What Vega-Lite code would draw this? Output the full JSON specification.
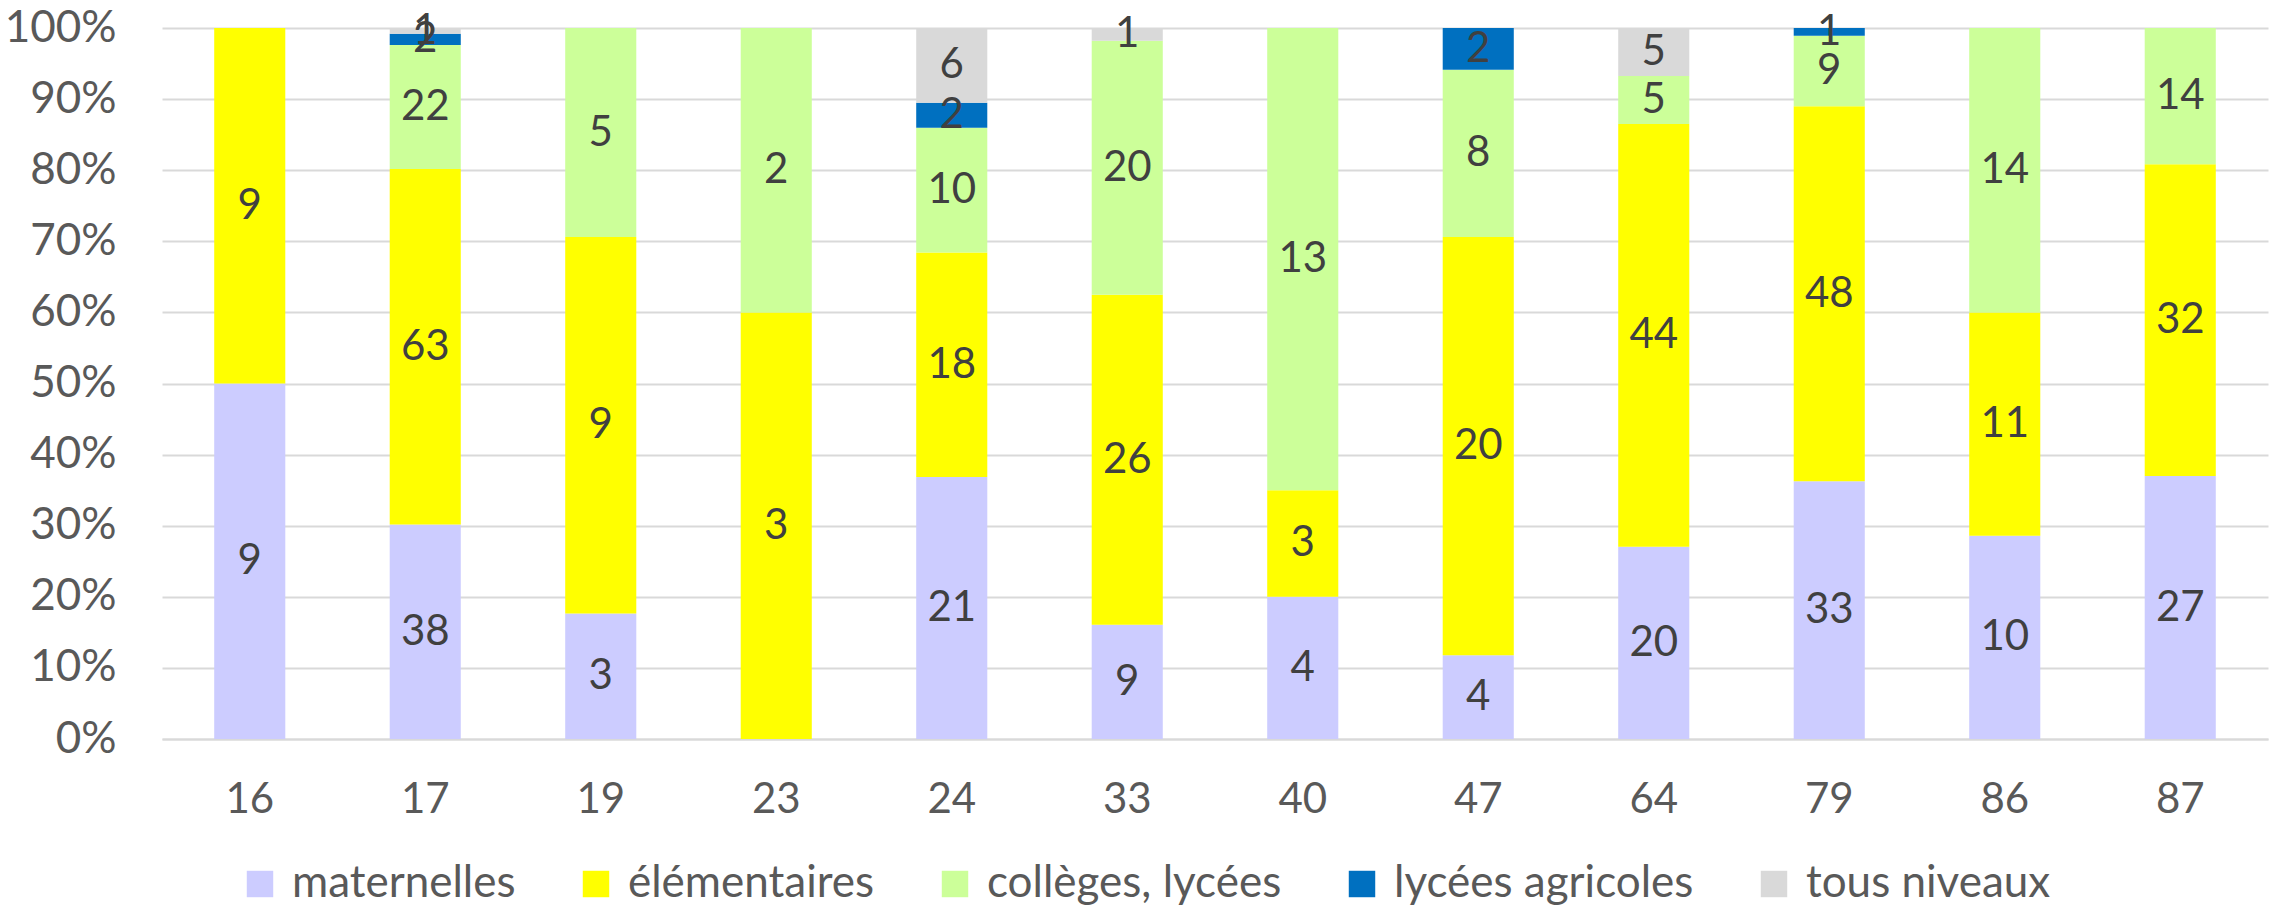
{
  "$schema": "https://vega.github.io/schema/vega-lite/v6.json",
  "width": 2106,
  "height": 711,
  "autosize": {"type": "none"},
  "padding": {"left": 162, "top": 28, "right": 9, "bottom": 170},
  "background": "white",
  "config": {
    "view": {"stroke": null},
    "font": "Lato",
    "axis": {"labelFont": "Lato", "labelColor": "#595959", "labelFontSize": 42},
    "legend": {"labelFont": "Lato"}
  },
  "data": {
    "values": [
      {"dep": "16", "niveau": "maternelles", "n": 9},
      {"dep": "16", "niveau": "élémentaires", "n": 9},
      {"dep": "17", "niveau": "maternelles", "n": 38},
      {"dep": "17", "niveau": "élémentaires", "n": 63},
      {"dep": "17", "niveau": "collèges, lycées", "n": 22},
      {"dep": "17", "niveau": "lycées agricoles", "n": 2},
      {"dep": "17", "niveau": "tous niveaux", "n": 1},
      {"dep": "19", "niveau": "maternelles", "n": 3},
      {"dep": "19", "niveau": "élémentaires", "n": 9},
      {"dep": "19", "niveau": "collèges, lycées", "n": 5},
      {"dep": "23", "niveau": "élémentaires", "n": 3},
      {"dep": "23", "niveau": "collèges, lycées", "n": 2},
      {"dep": "24", "niveau": "maternelles", "n": 21},
      {"dep": "24", "niveau": "élémentaires", "n": 18},
      {"dep": "24", "niveau": "collèges, lycées", "n": 10},
      {"dep": "24", "niveau": "lycées agricoles", "n": 2},
      {"dep": "24", "niveau": "tous niveaux", "n": 6},
      {"dep": "33", "niveau": "maternelles", "n": 9},
      {"dep": "33", "niveau": "élémentaires", "n": 26},
      {"dep": "33", "niveau": "collèges, lycées", "n": 20},
      {"dep": "33", "niveau": "tous niveaux", "n": 1},
      {"dep": "40", "niveau": "maternelles", "n": 4},
      {"dep": "40", "niveau": "élémentaires", "n": 3},
      {"dep": "40", "niveau": "collèges, lycées", "n": 13},
      {"dep": "47", "niveau": "maternelles", "n": 4},
      {"dep": "47", "niveau": "élémentaires", "n": 20},
      {"dep": "47", "niveau": "collèges, lycées", "n": 8},
      {"dep": "47", "niveau": "lycées agricoles", "n": 2},
      {"dep": "64", "niveau": "maternelles", "n": 20},
      {"dep": "64", "niveau": "élémentaires", "n": 44},
      {"dep": "64", "niveau": "collèges, lycées", "n": 5},
      {"dep": "64", "niveau": "tous niveaux", "n": 5},
      {"dep": "79", "niveau": "maternelles", "n": 33},
      {"dep": "79", "niveau": "élémentaires", "n": 48},
      {"dep": "79", "niveau": "collèges, lycées", "n": 9},
      {"dep": "79", "niveau": "lycées agricoles", "n": 1},
      {"dep": "86", "niveau": "maternelles", "n": 10},
      {"dep": "86", "niveau": "élémentaires", "n": 11},
      {"dep": "86", "niveau": "collèges, lycées", "n": 14},
      {"dep": "87", "niveau": "maternelles", "n": 27},
      {"dep": "87", "niveau": "élémentaires", "n": 32},
      {"dep": "87", "niveau": "collèges, lycées", "n": 14}
    ]
  },
  "transform": [
    {"calculate": "indexof(['maternelles', 'élémentaires', 'collèges, lycées', 'lycées agricoles', 'tous niveaux'], datum.niveau)", "as": "rang"},
    {"stack": "n", "groupby": ["dep"], "sort": [{"field": "rang", "order": "ascending"}], "offset": "normalize", "as": ["y0", "y1"]},
    {"calculate": "(datum.y0 + datum.y1) / 2", "as": "ymid"}
  ],
  "encoding": {
    "x": {
      "field": "dep", "type": "nominal", "sort": null,
      "scale": {"paddingInner": 0.595, "paddingOuter": 0.2975},
      "axis": {"title": null, "labelAngle": 0, "ticks": false, "domain": true, "domainColor": "#D9D9D9", "domainWidth": 2, "labelPadding": 40}
    }
  },
  "layer": [
    {
      "mark": {"type": "bar"},
      "encoding": {
        "y": {
          "field": "y0", "type": "quantitative",
          "scale": {"domain": [0, 1], "nice": false},
          "axis": {"title": null, "format": ".0%", "values": [0,0.1,0.2,0.3,0.4,0.5,0.6,0.7,0.8,0.9,1], "ticks": false, "domain": false, "grid": true, "gridColor": "#D9D9D9", "gridWidth": 2, "labelPadding": 46, "labelFontSize": 44}
        },
        "y2": {"field": "y1"},
        "color": {
          "field": "niveau", "type": "nominal",
          "sort": ["maternelles", "élémentaires", "collèges, lycées", "lycées agricoles", "tous niveaux"],
          "scale": {
            "domain": ["maternelles", "élémentaires", "collèges, lycées", "lycées agricoles", "tous niveaux"],
            "range": ["#CCCCFF", "#FFFF00", "#CCFF99", "#0070C0", "#D9D9D9"]
          },
          "legend": {
            "title": null, "orient": "none", "direction": "horizontal", "columns": 5,
            "legendX": 76, "legendY": 834, "labelLimit": 0, "padding": 0,
            "symbolType": "square", "symbolSize": 700, "symbolStrokeWidth": 0,
            "labelFontSize": 44, "labelColor": "#595959", "columnPadding": 58, "labelOffset": 10
          }
        }
      }
    },
    {
      "mark": {"type": "text", "fontSize": 42, "color": "#404040", "baseline": "middle"},
      "encoding": {
        "y": {"field": "ymid", "type": "quantitative"},
        "text": {"field": "n", "type": "quantitative"}
      }
    }
  ]
}
